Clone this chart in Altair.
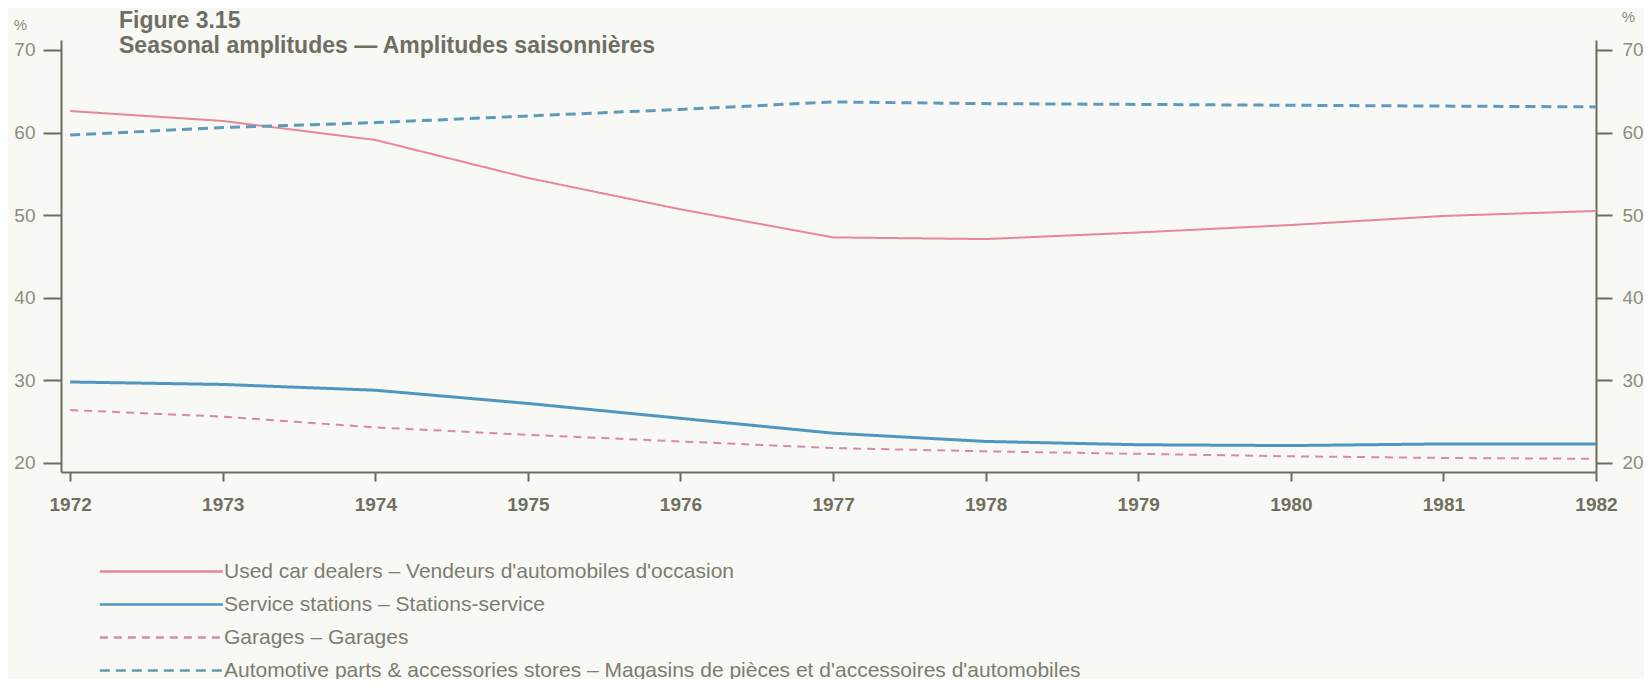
import altair as alt
import pandas as pd

years = list(range(1972, 1983))
series_names = [
    "Used car dealers – Vendeurs d'automobiles d'occasion",
    "Service stations – Stations-service",
    "Garages – Garages",
    "Automotive parts & accessories stores – Magasins de pièces et d'accessoires d'automobiles",
]
used_car = [62.6, 61.4, 59.1, 54.5, 50.7, 47.3, 47.1, 47.9, 48.8, 49.9, 50.5]
service_stations = [29.8, 29.5, 28.8, 27.2, 25.4, 23.6, 22.6, 22.2, 22.1, 22.3, 22.3]
garages = [26.4, 25.6, 24.3, 23.4, 22.6, 21.8, 21.4, 21.1, 20.8, 20.6, 20.5]
parts_stores = [59.7, 60.6, 61.2, 62.0, 62.8, 63.7, 63.5, 63.4, 63.3, 63.2, 63.1]
y_ticks = [20, 30, 40, 50, 60, 70]
title_lines = ["Figure 3.15", "Seasonal amplitudes — Amplitudes saisonnières"]

rows = []
for name, vals in zip(series_names, [used_car, service_stations, garages, parts_stores]):
    for yr, v in zip(years, vals):
        rows.append({"year": yr, "value": v, "series": name})
df = pd.DataFrame(rows)

FONT = "Liberation Sans"
AXIS_COL = "#6b6e5c"
LABEL_COL = "#8a8f7a"

colors = ["#e8869a", "#4f97c0", "#d78aa8", "#5f9bb6"]
dashes = [[1, 0], [1, 0], [8, 6], [10, 6]]

yscale = alt.Scale(domain=[18.9, 71.2], nice=False, zero=False)
x_enc = alt.X(
    "year:Q",
    scale=alt.Scale(domain=[1971.94, 1982], nice=False, zero=False),
    axis=alt.Axis(
        values=years, format="d", title=None, grid=False,
        tickSize=9, tickWidth=2, tickColor=AXIS_COL,
        domainColor=AXIS_COL, domainWidth=2,
        labelFont=FONT, labelFontSize=19, labelFontWeight="bold",
        labelColor="#6f7060", labelPadding=14, labelFlush=False,
    ),
)

lines = alt.Chart(df).mark_line(strokeCap="butt").encode(
    x=x_enc,
    y=alt.Y(
        "value:Q", scale=yscale,
        axis=alt.Axis(
            orient="left", values=y_ticks, grid=False,
            tickSize=18, tickWidth=2, tickColor=AXIS_COL,
            domainColor=AXIS_COL, domainWidth=2,
            labelFont=FONT, labelFontSize=19, labelColor=LABEL_COL, labelPadding=8,
            title="%", titleAngle=0, titleX=-41, titleY=-11,
            titleAlign="center", titleBaseline="alphabetic",
            titleFont=FONT, titleFontSize=15, titleFontWeight="normal", titleColor=LABEL_COL,
        ),
    ),
    color=alt.Color(
        "series:N",
        scale=alt.Scale(domain=series_names, range=colors),
        legend=alt.Legend(
            title=None, orient="none", legendX=36, legendY=521,
            direction="vertical", symbolType="M-1,0H15", symbolSize=236.8,
            symbolStrokeWidth=2.5, symbolFillColor="transparent",
            labelFont=FONT, labelFontSize=21,
            labelColor="#7c7d70", labelLimit=1200, labelOffset=106,
            rowPadding=11, padding=0,
        ),
    ),
    strokeDash=alt.StrokeDash(
        "series:N",
        scale=alt.Scale(domain=series_names, range=dashes),
    ),
    strokeWidth=alt.condition(
        alt.FieldOneOfPredicate(field="series", oneOf=[series_names[1], series_names[3]]),
        alt.value(3),
        alt.value(2),
    ),
)

right_axis = alt.Chart(df).mark_point(opacity=0, size=1).encode(
    x=x_enc,
    y=alt.Y(
        "value:Q", scale=yscale,
        axis=alt.Axis(
            orient="right", values=y_ticks, grid=False,
            tickSize=16, tickWidth=2, tickColor=AXIS_COL,
            domainColor=AXIS_COL, domainWidth=2,
            labelFont=FONT, labelFontSize=19, labelColor=LABEL_COL, labelPadding=10,
            title="%", titleAngle=0, titleX=32, titleY=-19,
            titleAlign="center", titleBaseline="alphabetic",
            titleFont=FONT, titleFontSize=15, titleFontWeight="normal", titleColor=LABEL_COL,
        ),
    ),
)

t1 = alt.Chart(pd.DataFrame({"t": [title_lines[0]]})).mark_text(
    align="left", baseline="alphabetic", font=FONT, fontSize=23,
    fontWeight="bold", color="#6e6f62",
).encode(text="t:N", x=alt.value(58), y=alt.value(-12))

t2 = alt.Chart(pd.DataFrame({"t": [title_lines[1]]})).mark_text(
    align="left", baseline="alphabetic", font=FONT, fontSize=23,
    fontWeight="bold", color="#6e6f62",
).encode(text="t:N", x=alt.value(58), y=alt.value(13))

chart = (
    alt.layer(lines, right_axis, t1, t2)
    .resolve_axis(y="independent")
    .properties(
        width=1535, height=432,
        autosize=alt.AutoSizeParams(type="none"),
        padding={"left": 53, "top": 32, "right": 48, "bottom": 207},
        background="#f8f8f4",
    )
    .configure_view(stroke=None)
)

chart.save("out.html", embed_options={"renderer": "svg", "actions": False})
